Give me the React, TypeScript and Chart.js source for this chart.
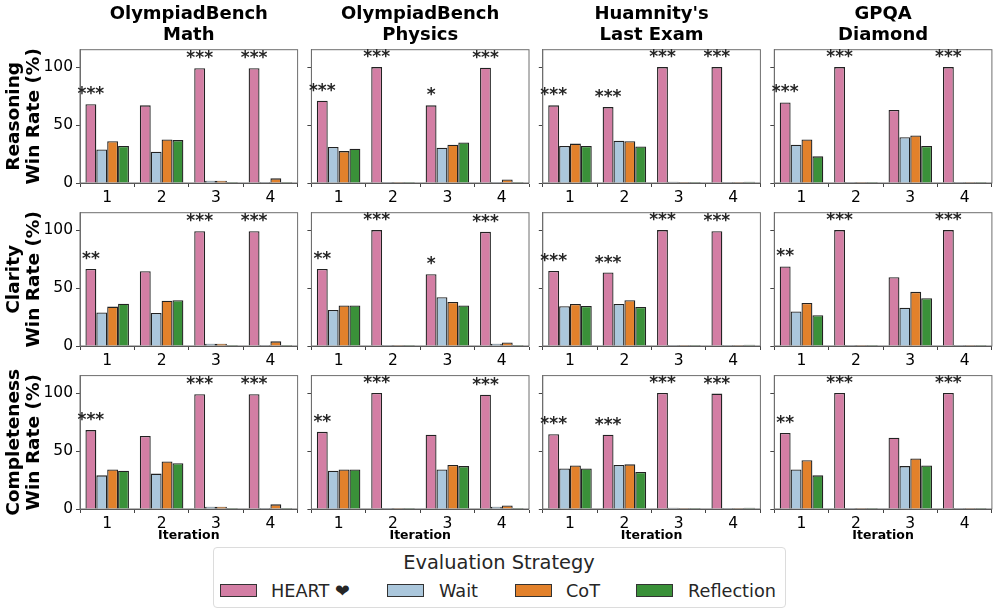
import React, { useEffect, useRef } from "react";
import { Chart, registerables } from "chart.js";

Chart.register(...registerables);

const iterations = ["1", "2", "3", "4"];
const strategies = ["HEART ❤", "Wait", "CoT", "Reflection"];
const strategyColors = ["#d37ea4", "#abc7dc", "#e2812b", "#3a9139"];
const columnTitles = [["OlympiadBench", "Math"], ["OlympiadBench", "Physics"], ["Huamnity's", "Last Exam"], ["GPQA", "Diamond"]];
const rowTitles = ["Reasoning", "Clarity", "Completeness"];

// Values per column: [HEART, Wait, CoT, Reflection]
const reasoningMath = [[68, 67, 99, 99], [29, 27, 2, 0], [36, 37.5, 2, 4], [32, 37, 0, 0]];
const reasoningPhysics = [[71, 100, 67, 99.5], [31, 0, 30.5, 0], [27.5, 0, 33, 3], [29.5, 0, 35, 0]];
const reasoningExam = [[67, 65.5, 100, 100], [32, 36.5, 1, 0], [34, 36, 0.2, 0], [32, 31.5, 0.2, 1]];
const reasoningGpqa = [[69.5, 100, 63, 100], [33, 0, 39.5, 0], [37.5, 0, 41, 0], [23, 0, 32, 0]];

const clarityMath = [[66.5, 64.5, 99, 99], [29, 28.5, 2, 0], [34, 39, 2, 4], [36.5, 39.5, 0, 0]];
const clarityPhysics = [[66.5, 100, 62, 98.5], [31, 0, 42, 2], [35, 0, 38, 3], [35, 0, 35, 0]];
const clarityExam = [[64.8, 63.4, 100, 99], [34.3, 36.3, 0.5, 0], [36.3, 39.5, 0.2, 0], [34.6, 33.7, 0.2, 1]];
const clarityGpqa = [[68.6, 100, 59.4, 100], [29.7, 0, 33, 0], [37.2, 0, 46.7, 0], [26.5, 0, 41.2, 0]];

const completenessMath = [[68, 63, 99, 99], [29, 30.5, 2, 0], [34, 41, 2, 4], [33, 39.5, 0, 0]];
const completenessPhysics = [[66.5, 100, 64, 98.5], [33, 0, 34, 2], [34, 0, 38, 3], [34, 0, 37, 0]];
const completenessExam = [[64.5, 64, 100, 99.5], [35, 38, 1, 0], [37.5, 38.5, 0.2, 0], [35, 32, 0.2, 1]];
const completenessGpqa = [[65.5, 100, 61.5, 100], [34, 0, 37, 0], [42, 0, 43.5, 0], [29, 0, 37.5, 0]];

const starsReasoning = [["***", "", "***", "***"], ["***", "***", "*", "***"], ["***", "***", "***", "***"], ["***", "***", "", "***"]];
const starsClarity = [["**", "", "***", "***"], ["**", "***", "*", "***"], ["***", "***", "***", "***"], ["**", "***", "", "***"]];
const starsCompleteness = [["***", "", "***", "***"], ["**", "***", "", "***"], ["***", "***", "***", "***"], ["**", "***", "", "***"]];

const grid = [
  [reasoningMath, reasoningPhysics, reasoningExam, reasoningGpqa],
  [clarityMath, clarityPhysics, clarityExam, clarityGpqa],
  [completenessMath, completenessPhysics, completenessExam, completenessGpqa],
];
const starGrid = [starsReasoning, starsClarity, starsCompleteness];

const FONT = "'DejaVu Sans'";
const colLefts = [80, 311.4, 542.8, 774.3];
const rowTops = [49.7, 212.7, 375.6];
const AREA_W = 217.6;
const AREA_H = 132.6;

function Panel({ row, col }: { row: number; col: number }) {
  const ref = useRef<HTMLCanvasElement>(null);
  const colLeft = colLefts[col];
  const rowTop = rowTops[row];
  const canvasLeft = col === 0 ? 0 : Math.floor(colLeft - 30);
  const canvasTop = row === 0 ? 0 : Math.floor(rowTop - 14);
  const yW = colLeft - canvasLeft;
  const topOff = rowTop - canvasTop;
  const xH = row === 2 ? 36 : 24;
  const W = Math.ceil(yW + AREA_W + 6);
  const H = Math.ceil(topOff + AREA_H + xH);

  useEffect(() => {
    const starPlugin = {
      id: "stars",
      afterDatasetsDraw(chart: any) {
        const { ctx, scales } = chart;
        const meta = chart.getDatasetMeta(0);
        ctx.save();
        ctx.font = `bold 17px ${FONT}`;
        ctx.fillStyle = "#262626";
        ctx.textAlign = "center";
        ctx.textBaseline = "alphabetic";
        starGrid[row][col].forEach((s: string, i: number) => {
          if (!s) return;
          ctx.fillText(s, meta.data[i].x, scales.y.getPixelForValue(grid[row][col][0][i]) - 5);
        });
        ctx.restore();
      },
    };
    const framePlugin = {
      id: "frame",
      beforeDatasetsDraw(chart: any) {
        const { ctx, chartArea: a } = chart;
        ctx.save();
        ctx.strokeStyle = "#6e6e6e";
        ctx.lineWidth = 1;
        ctx.strokeRect(a.left, a.top, a.right - a.left, a.bottom - a.top);
        ctx.restore();
      },
    };
    const chart = new Chart(ref.current!, {
      type: "bar",
      data: {
        labels: iterations,
        datasets: strategies.map((name, k) => ({
          label: name,
          data: grid[row][col][k],
          backgroundColor: strategyColors[k],
          borderColor: "#222222",
          borderWidth: 1.3,
          minBarLength: 1,
          barPercentage: 1,
          categoryPercentage: 0.8,
        })),
      },
      options: {
        responsive: false,
        animation: false,
        layout: { padding: { top: row === 0 ? 0 : topOff, right: W - yW - AREA_W, bottom: 0, left: 0 } },
        plugins: {
          legend: { display: false },
          tooltip: { enabled: false },
          title: {
            display: row === 0,
            text: columnTitles[col],
            fullSize: false,
            color: "#000",
            font: { family: FONT, size: 18, weight: "bold", lineHeight: 1.17 },
            padding: { top: 4, bottom: 49.7 - 4 - 2 * 18 * 1.17 },
          },
        },
        scales: {
          x: {
            type: "category",
            border: { color: "#444" },
            grid: { drawOnChartArea: false, drawTicks: true, tickLength: 4, color: "#444" },
            ticks: { color: "#000", maxRotation: 0, padding: 2, font: { family: FONT, size: 15.5 } },
            title: {
              display: row === 2,
              text: "Iteration",
              color: "#000",
              font: { family: FONT, size: 12.5, weight: "bold" },
              padding: { top: 2, bottom: 2 },
            },
            afterFit: (s: any) => { s.height = xH; },
          },
          y: {
            min: 0,
            max: 115,
            border: { color: "#6e6e6e" },
            grid: { drawOnChartArea: false, drawTicks: true, tickLength: 4, color: "#444" },
            ticks: {
              stepSize: 50,
              includeBounds: false,
              padding: 3,
              color: "#000",
              font: { family: FONT, size: 15.5 },
              callback: (v: any) => (col === 0 ? String(v) : ""),
            },
            title: {
              display: col === 0,
              text: [rowTitles[row], "Win Rate (%)"],
              color: "#000",
              font: { family: FONT, size: 18.5, weight: "bold", lineHeight: 1.08 },
              padding: { top: 4, bottom: 0 },
            },
            afterFit: (s: any) => { s.width = yW; },
          },
        },
      },
      plugins: [framePlugin, starPlugin],
    } as any);
    return () => chart.destroy();
  }, []);

  return (
    <canvas
      ref={ref}
      width={W}
      height={H}
      style={{ position: "absolute", left: canvasLeft, top: canvasTop, width: W, height: H }}
    />
  );
}

const legendSwatchX = [220, 387, 515, 636];
const legendLabelX = [271, 439, 566, 688];

export default function App() {
  const cells: React.ReactNode[] = [];
  grid.forEach((r, i) => r.forEach((_, j) => cells.push(<Panel key={`${i}-${j}`} row={i} col={j} />)));
  return (
    <div style={{ position: "fixed", left: 0, top: 0, width: 997, height: 613, background: "#fff", overflow: "hidden", fontFamily: FONT }}>
      {cells}
      <div style={{ position: "absolute", left: 213, top: 547, width: 571, height: 59, border: "1px solid #dcdcdc", borderRadius: 4, boxSizing: "content-box" }} />
      <div style={{ position: "absolute", left: 213, width: 572, top: 551, textAlign: "center", fontSize: 19.4, lineHeight: "24px", color: "#262626" }}>
        Evaluation Strategy
      </div>
      {strategies.map((s, k) => (
        <React.Fragment key={s}>
          <div style={{ position: "absolute", left: legendSwatchX[k], top: 584, width: 37, height: 13, background: strategyColors[k], border: "1px solid #333", boxSizing: "border-box" }} />
          <div style={{ position: "absolute", left: legendLabelX[k], top: 579, fontSize: 17.7, lineHeight: "24px", color: "#262626", whiteSpace: "nowrap" }}>{s}</div>
        </React.Fragment>
      ))}
    </div>
  );
}
